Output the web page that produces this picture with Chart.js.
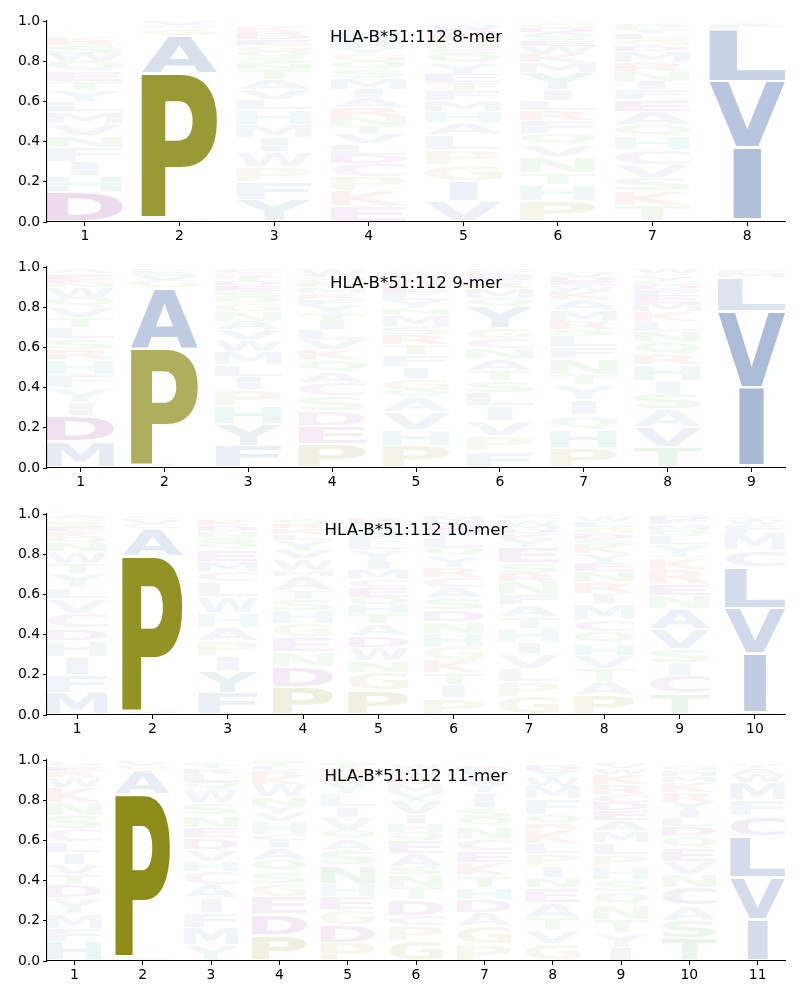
<!DOCTYPE html>
<html>
<head>
<meta charset="utf-8">
<script src="https://cdn.jsdelivr.net/npm/chart.js@4.4.1/dist/chart.umd.min.js"></script>
<style>
  html, body { margin: 0; padding: 0; background: #ffffff; }
  #wrap { position: relative; width: 800px; height: 1000px; overflow: hidden; }
  .panel { position: absolute; left: 0; width: 800px; height: 246px; }
</style>
</head>
<body>
<div id="wrap"></div>
<script>
// ---------------- data ----------------
const titles = ["HLA-B*51:112 8-mer", "HLA-B*51:112 9-mer", "HLA-B*51:112 10-mer", "HLA-B*51:112 11-mer"];
const yTickValues = [0, 0.2, 0.4, 0.6, 0.8, 1.0];

// letters of every position, bottom to top
const mer8Letters = ["DHIFNVMLYTEQWSRK", "TSPAGQV", "YFPWIMHLVATNSQGEDRKC", "EKPCDLVTNRAIMSQGYFHW",
  "VIGPLAHMFTEYQSNKRDWC", "PHTNVQFRLIYMKWESADGC", "TKSVCHQAEFINRMDGLYPW", "MIVLFAY"];
// heights (probability) of those letters
const mer8Heights = [
  [.15,.08,.07,.07,.06,.06,.06,.05,.06,.04,.05,.05,.04,.04,.02,.02],
  [.01,.01,.72,.19,.03,.02,.02],
  [.11,.09,.075,.075,.07,.065,.075,.05,.05,.05,.05,.03,.03,.03,.03,.03,.02,.02,.02,.01],
  [.08,.08,.065,.065,.04,.06,.05,.04,.04,.05,.05,.04,.06,.04,.04,.04,.03,.03,.02,.03],
  [.105,.1,.08,.075,.075,.06,.055,.055,.05,.04,.04,.06,.04,.03,.03,.02,.02,.02,.03,.01],
  [.105,.08,.06,.08,.06,.055,.065,.05,.05,.05,.09,.05,.04,.04,.03,.02,.02,.02,.02,.01],
  [.08,.075,.065,.065,.075,.065,.06,.065,.06,.05,.04,.05,.04,.06,.03,.03,.03,.02,.02,.01],
  [.01,.36,.33,.26,.02,.01,.01]
];

const mer9Letters = ["MDIYFHRSLTVQWNKEGA", "TPAGVSLR", "FYHPILMWVANGQSEDTRKC", "PEDSCAQKVLITYFRMNGHW",
  "PHVAQGIFTRSMNYLEDKWC", "FPVILSTANCGYQMREDKHW", "PHQIYTNFLSRMAKWEDVG", "TVASIHRQNLKMEFDGYPCW", "AIVLMFT"];
const mer9Heights = [
  [.13,.13,.065,.075,.065,.075,.05,.055,.055,.05,.05,.05,.05,.02,.02,.02,.01,.02],
  [.015,.58,.30,.04,.02,.02,.01,.01],
  [.11,.11,.09,.08,.065,.06,.065,.06,.05,.04,.05,.04,.03,.03,.03,.02,.02,.01,.01,.02],
  [.12,.09,.075,.075,.065,.05,.065,.05,.05,.05,.04,.04,.04,.03,.03,.03,.02,.02,.01,.04],
  [.11,.08,.09,.075,.03,.06,.06,.06,.05,.05,.04,.06,.03,.04,.04,.03,.02,.03,.02,.01],
  [.085,.075,.075,.075,.065,.06,.05,.06,.05,.05,.05,.11,.04,.05,.03,.02,.02,.01,.01,.01],
  [.1,.09,.075,.075,.075,.05,.08,.06,.055,.03,.04,.06,.05,.04,.03,.02,.02,.02,.01],
  [.105,.1,.085,.08,.065,.08,.05,.065,.05,.05,.05,.04,.04,.03,.02,.02,.02,.01,.01,.02],
  [.01,.39,.38,.17,.02,.015,.01]
];

const mer10Letters = ["MFIHDCVLYTWNQKESRGA", "SPAGVLQ", "FYIPAHWLCMEQSNDKRG", "PDNEGHSTAMWVYLKRQI",
  "PGNWDATHQECMIYLFSVKR", "PITKGHNDSACRYQLFEVMW", "GPLVIHTAFNRSEYKDMWQC", "PATVHQCMIRNEYKSDGLFW",
  "TCISVANERKYLQMFDG", "AIVLCMFWY"];
const mer10Heights = [
  [.11,.09,.09,.08,.06,.075,.075,.05,.075,.05,.06,.04,.03,.03,.02,.02,.01,.01,.02],
  [.02,.77,.14,.02,.02,.01,.01],
  [.11,.11,.075,.075,.065,.075,.08,.075,.05,.05,.06,.03,.03,.03,.03,.02,.01,.01],
  [.14,.1,.075,.075,.065,.065,.06,.04,.07,.03,.06,.04,.05,.03,.03,.02,.02,.01],
  [.12,.09,.06,.065,.06,.06,.05,.04,.04,.05,.04,.05,.04,.06,.04,.03,.03,.03,.02,.01],
  [.085,.065,.06,.065,.065,.065,.06,.06,.06,.05,.05,.05,.06,.04,.05,.03,.03,.02,.02,.01],
  [.09,.075,.065,.075,.06,.065,.06,.06,.05,.065,.04,.05,.08,.04,.03,.02,.02,.02,.01,.02],
  [.1,.065,.065,.065,.06,.06,.06,.08,.05,.06,.05,.04,.05,.04,.03,.03,.03,.02,.01,.02],
  [.107,.088,.066,.066,.1,.1,.066,.058,.07,.06,.066,.04,.03,.03,.02,.02,.01],
  [.01,.295,.225,.205,.085,.085,.045,.02,.015]
];

const mer11Letters = ["HFMYDTVILCSNKWREQ", "SPAGVL", "YMFIACHVDENSWQLRTK", "PDEGSQAICHVYNWKRLTF",
  "PDGEHNSAQVILYKRTM", "GPCDTNSAEQHIVYMRKLFW", "PGADHTKECNQSIYVLFR", "GVTAENIPLKRQFMWYDS",
  "IYTNQSHPLMAEDCRKWVF", "TSACNVEQDLIYRKMHFG", "IVLCFMWAY"];
const mer11Heights = [
  [.095,.065,.075,.08,.065,.05,.05,.06,.05,.065,.065,.065,.08,.05,.03,.02,.02],
  [.02,.81,.125,.02,.015,.01],
  [.08,.085,.075,.075,.065,.065,.05,.06,.06,.05,.06,.06,.065,.04,.04,.03,.02,.01],
  [.13,.105,.085,.065,.06,.06,.06,.035,.03,.065,.04,.035,.045,.065,.04,.03,.02,.02,.01],
  [.09,.09,.075,.065,.065,.09,.075,.06,.04,.065,.05,.065,.06,.04,.03,.02,.01],
  [.1,.075,.05,.08,.065,.06,.04,.065,.065,.04,.045,.04,.07,.04,.04,.03,.02,.02,.01,.02],
  [.085,.09,.065,.065,.06,.06,.065,.06,.06,.06,.045,.045,.075,.06,.03,.02,.02,.01],
  [.085,.065,.065,.075,.075,.05,.06,.06,.05,.07,.03,.04,.08,.065,.04,.04,.02,.01],
  [.065,.075,.065,.075,.065,.06,.065,.06,.06,.06,.05,.05,.04,.04,.05,.05,.03,.02,.01],
  [.11,.09,.075,.09,.065,.065,.065,.065,.045,.04,.04,.04,.05,.05,.03,.02,.01,.03],
  [.205,.21,.205,.1,.08,.09,.04,.03,.02]
];

const panelLetters = [mer8Letters, mer9Letters, mer10Letters, mer11Letters];
const panelHeights = [mer8Heights, mer9Heights, mer10Heights, mer11Heights];

// ---------------- styles ----------------
const letterRGB = {
  A: [50,90,160], V: [50,90,160], L: [50,90,160], I: [50,90,160], M: [50,90,160], F: [50,90,160], W: [50,90,160],
  P: [128,128,0], G: [128,128,0],
  D: [128,0,128], E: [128,0,128], C: [120,50,150],
  K: [214,39,40], R: [214,39,40],
  N: [20,150,20], Q: [20,150,20], S: [20,150,20], T: [20,150,20],
  H: [0,128,128], Y: [30,115,145]
};
const FONT_FAMILY = '"DejaVu Sans", "Liberation Sans", sans-serif';

function alphaFor(h) { return Math.max(0.06, Math.min(1, 1.15 * h - 0.03)); }

const glyphCache = {};
function glyphMetrics(ctx, ch) {
  if (glyphCache[ch]) return glyphCache[ch];
  ctx.save();
  ctx.font = 'bold 200px ' + FONT_FAMILY;
  const m = ctx.measureText(ch);
  const r = { l: m.actualBoundingBoxLeft, r: m.actualBoundingBoxRight, a: m.actualBoundingBoxAscent, d: m.actualBoundingBoxDescent };
  ctx.restore();
  glyphCache[ch] = r;
  return r;
}

const logoPlugin = {
  id: 'logoGlyphs',
  afterDatasetsDraw(chart) {
    const ctx = chart.ctx;
    const ca = chart.chartArea;
    const eM = glyphMetrics(ctx, 'E');
    const eW = eM.l + eM.r;
    ctx.save();
    ctx.beginPath();
    ctx.rect(ca.left, ca.top - 2, ca.right - ca.left, ca.bottom - ca.top + 2);
    ctx.clip();
    chart.data.datasets.forEach((ds, di) => {
      const meta = chart.getDatasetMeta(di);
      meta.data.forEach((el, j) => {
        const ch = ds.letters[j];
        const val = ds.data[j] ? ds.data[j].y : 0;
        if (!ch || !val) return;
        const p = el.getProps(['x', 'y', 'base', 'width'], true);
        const top = Math.min(p.y, p.base), bottom = Math.max(p.y, p.base);
        const hpx = bottom - top;
        if (hpx < 0.6) return;
        const w = p.width, left = p.x - w / 2;
        const g = glyphMetrics(ctx, ch);
        const gw = g.l + g.r, gh = g.a + g.d;
        const pad = Math.min(1.5, 0.06 * hpx);
        const sx = w / Math.max(gw, eW);
        const sy = (hpx - 2 * pad) / gh;
        const shift = (w - gw * sx) / 2;
        const c = letterRGB[ch] || [120,120,120];
        ctx.save();
        ctx.translate(left + shift + g.l * sx, top + pad + g.a * sy);
        ctx.scale(sx, sy);
        ctx.font = 'bold 200px ' + FONT_FAMILY;
        ctx.textAlign = 'left';
        ctx.textBaseline = 'alphabetic';
        ctx.fillStyle = 'rgba(' + c[0] + ',' + c[1] + ',' + c[2] + ',' + alphaFor(val) + ')';
        ctx.fillText(ch, 0, 0);
        ctx.restore();
      });
    });
    ctx.restore();
  }
};

const titlePlugin = {
  id: 'logoTitle',
  afterDraw(chart, args, opts) {
    const ctx = chart.ctx, ca = chart.chartArea;
    ctx.save();
    ctx.font = '16.67px ' + FONT_FAMILY;
    ctx.fillStyle = '#000';
    ctx.textAlign = 'center';
    ctx.textBaseline = 'alphabetic';
    ctx.fillText(opts.text, (ca.left + ca.right) / 2, ca.top + 21);
    ctx.restore();
  }
};

const tickFont = { family: FONT_FAMILY, size: 13.9 };
const wrap = document.getElementById('wrap');

panelLetters.forEach((letters, pi) => {
  const heights = panelHeights[pi];
  const n = letters.length;
  const positions = letters.map((_, j) => j + 1);
  const maxDepth = Math.max(...letters.map(s => s.length));
  const datasets = [];
  for (let k = 0; k < maxDepth; k++) {
    datasets.push({
      letters: letters.map(s => s[k] || ''),
      data: positions.map((x, j) => ({ x: x, y: heights[j][k] !== undefined ? heights[j][k] : 0 })),
      backgroundColor: 'rgba(0,0,0,0)',
      borderWidth: 0
    });
  }
  const div = document.createElement('div');
  div.className = 'panel';
  div.style.top = Math.round(pi * 246.33) + 'px';
  const canvas = document.createElement('canvas');
  canvas.width = 800; canvas.height = 246;
  canvas.style.width = '800px'; canvas.style.height = '246px';
  div.appendChild(canvas);
  wrap.appendChild(div);

  new Chart(canvas, {
    type: 'bar',
    data: { datasets },
    options: {
      responsive: false,
      animation: false,
      events: [],
      layout: { padding: { top: 21, right: 15, left: 0, bottom: 0 } },
      datasets: { bar: { barPercentage: 0.8, categoryPercentage: 1.0, grouped: false } },
      plugins: { legend: { display: false }, tooltip: { enabled: false }, logoTitle: { text: titles[pi] } },
      scales: {
        x: {
          type: 'linear', stacked: true, min: 0.6, max: n + 0.4, offset: false,
          afterBuildTicks: s => { s.ticks = positions.map(v => ({ value: v })); },
          afterFit: s => { s.height = 24; },
          grid: { offset: false, drawOnChartArea: false, drawTicks: true, tickLength: 4, color: '#000', lineWidth: 1 },
          border: { display: true, color: '#000', width: 1.1 },
          ticks: { color: '#000', font: tickFont, padding: 2, maxRotation: 0, autoSkip: false, callback: v => String(v) }
        },
        y: {
          stacked: true, min: 0, max: 1,
          afterBuildTicks: s => { s.ticks = yTickValues.map(v => ({ value: v })); },
          afterFit: s => { s.width = 47; },
          grid: { drawOnChartArea: false, drawTicks: true, tickLength: 4, color: '#000', lineWidth: 1 },
          border: { display: true, color: '#000', width: 1.1 },
          ticks: { color: '#000', font: tickFont, padding: 3, callback: v => Number(v).toFixed(1) }
        }
      }
    },
    plugins: [logoPlugin, titlePlugin]
  });
});
</script>
</body>
</html>
